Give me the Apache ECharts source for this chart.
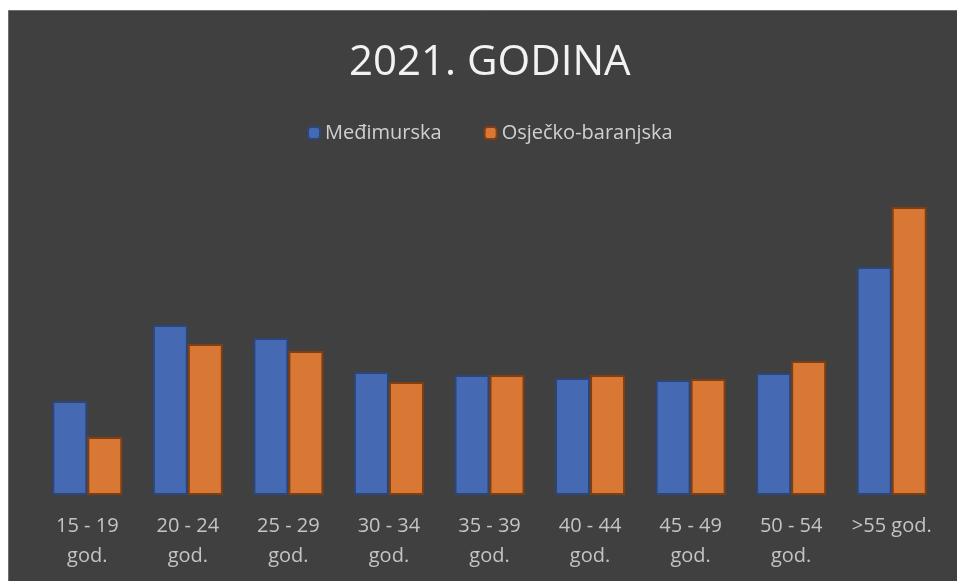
<!DOCTYPE html>
<html>
<head>
<meta charset="utf-8">
<script src="https://cdn.jsdelivr.net/npm/echarts@6/dist/echarts.min.js"></script>
<style>
html,body{margin:0;padding:0;background:#fff;}
#chart{width:957px;height:581px;}
</style>
</head>
<body>
<div id="chart"></div>
<script>
// podaci (visine stupaca ocitane sa slike)
let kategorije = ['15 - 19\ngod.', '20 - 24\ngod.', '25 - 29\ngod.', '30 - 34\ngod.', '35 - 39\ngod.', '40 - 44\ngod.', '45 - 49\ngod.', '50 - 54\ngod.', '>55 god.'];
let medimurska = [94, 170, 157, 123, 120, 117, 115, 122, 228];
let osjecko = [58, 151, 144, 113, 120, 120, 116, 134, 288];
let naslov = '2021. GODINA';
let imena = ['Međimurska', 'Osječko-baranjska'];

let font = '"Open Sans", "Noto Sans", sans-serif';
let chart = echarts.init(document.getElementById('chart'));
chart.setOption({
    backgroundColor: '#ffffff',
    animation: false,
    graphic: [{
        type: 'rect', z: -10,
        shape: {x: 8.5, y: 10.5, width: 960, height: 580},
        style: {fill: '#404040', stroke: '#6e6e6e', lineWidth: 1}
    }],
    title: {
        text: naslov, left: 344, top: 37,
        textStyle: {color: '#f2f2f2', fontSize: 42, fontWeight: 'normal', fontFamily: font}
    },
    legend: {
        top: 118, left: 302, itemWidth: 12, itemHeight: 12, itemGap: 42,
        textStyle: {color: '#d0d0d0', fontSize: 20, fontFamily: font},
        data: imena
    },
    grid: {left: 37, right: 15, top: 195, bottom: 86},
    xAxis: {
        type: 'category', data: kategorije,
        axisLine: {show: false}, axisTick: {show: false},
        axisLabel: {color: '#c4c4c4', fontSize: 20, lineHeight: 30, margin: 16, fontFamily: font, interval: 0}
    },
    yAxis: {type: 'value', min: 0, max: 300, show: false, splitLine: {show: false}},
    series: [{
        name: imena[0], type: 'bar', data: medimurska, barWidth: 35, barGap: '0%',
        itemStyle: {color: '#4569b2', borderColor: '#2b4677', borderWidth: 2}
    }, {
        name: imena[1], type: 'bar', data: osjecko, barWidth: 35,
        itemStyle: {color: '#d97834', borderColor: '#7f3f12', borderWidth: 2}
    }]
});
</script>
</body>
</html>
